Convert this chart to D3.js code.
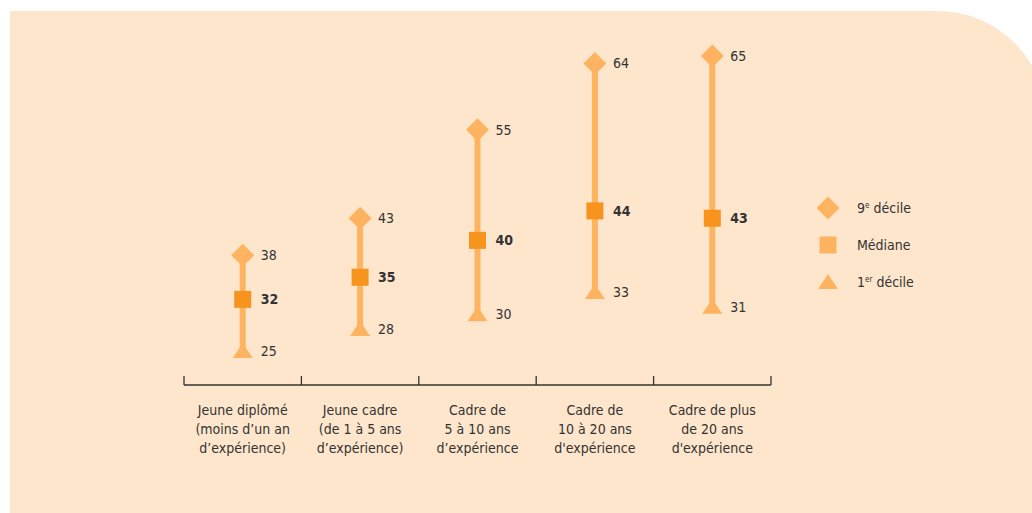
<!DOCTYPE html>
<html><head><meta charset="utf-8">
<script src="https://cdn.jsdelivr.net/npm/d3@7"></script>
<style>
html,body{margin:0;padding:0;background:#fff;}
svg{display:block;}
text{font-family:"Liberation Sans Narrow","DejaVu Sans Condensed","Liberation Sans",sans-serif;fill:#333;}
</style></head>
<body>
<script>
const categories = [
  ["Jeune diplômé","(moins d’un an","d’expérience)"],
  ["Jeune cadre","(de 1 à 5 ans","d’expérience)"],
  ["Cadre de","5 à 10 ans","d’expérience"],
  ["Cadre de","10 à 20 ans","d'expérience"],
  ["Cadre de plus","de 20 ans","d'expérience"]
];
const decile9 = [38, 43, 55, 64, 65];
const median  = [32, 35, 40, 44, 43];
const decile1 = [25, 28, 30, 33, 31];
const legendItems = [["9","e"," décile"],["Médiane","",""],["1","er"," décile"]];

const W = 1032, H = 513;
const svg = d3.select("body").append("svg").attr("width", W).attr("height", H);

// background panel with rounded top-right corner
const r = 110, x0 = 10, y0 = 11, xR = 1047, yB = 513;
svg.append("path")
  .attr("d", `M${x0},${y0} H${xR - r} A${r},${r} 0 0 1 ${xR},${y0 + r} V${yB} H${x0} Z`)
  .attr("fill", "#FEE6CC");

const idx = d3.range(categories.length);
const x = d3.scaleBand().domain(idx).range([184, 771]);
const y = d3.scaleLinear().domain([25, 65]).range([351, 56]);

const light = "#FDB35F", dark = "#F7941D";
const fs = 14;

// axis
const axisY = 385;
const ax = svg.append("g").attr("transform", `translate(0,${axisY})`)
  .call(d3.axisTop(x).tickSize(0).tickFormat(""));
ax.select(".domain").attr("stroke", "#333").attr("stroke-width", 1.3).attr("d", `M184,0H771`);
const bounds = idx.map(i => x(i)).concat([x(idx.length - 1) + x.bandwidth()]);
ax.selectAll(".bt").data(bounds).enter().append("line")
  .attr("x1", d => d).attr("x2", d => d).attr("y1", 0).attr("y2", -9)
  .attr("stroke", "#333").attr("stroke-width", 1.3);

// category labels
const lab = svg.append("g");
categories.forEach((lines, i) => {
  const t = lab.append("text").attr("text-anchor", "middle")
    .attr("x", x(i) + x.bandwidth() / 2).attr("y", 415).attr("font-size", fs);
  lines.forEach((l, k) => t.append("tspan").attr("x", x(i) + x.bandwidth() / 2).attr("dy", k ? 19 : 0).text(l));
});

const cx = i => x(i) + x.bandwidth() / 2;
const g = svg.append("g");
idx.forEach(i => {
  g.append("line").attr("x1", cx(i)).attr("x2", cx(i))
    .attr("y1", y(decile9[i])).attr("y2", y(decile1[i]))
    .attr("stroke", light).attr("stroke-width", 6);
});
const diamond = (s) => `M0,${-s}L${s},0L0,${s}L${-s},0Z`;
const tri = `M0,-8L10,7L-10,7Z`;
idx.forEach(i => {
  g.append("path").attr("d", diamond(11.5)).attr("fill", light)
    .attr("transform", `translate(${cx(i)},${y(decile9[i])})`);
  g.append("rect").attr("x", cx(i) - 8.5).attr("y", y(median[i]) - 8.5)
    .attr("width", 17).attr("height", 17).attr("fill", dark);
  g.append("path").attr("d", tri).attr("fill", light)
    .attr("transform", `translate(${cx(i)},${y(decile1[i])})`);
  g.append("text").attr("x", cx(i) + 18).attr("y", y(decile9[i]) + 5).attr("font-size", fs).text(decile9[i]);
  g.append("text").attr("x", cx(i) + 18).attr("y", y(median[i]) + 5).attr("font-size", fs)
    .attr("font-weight", "bold").text(median[i]);
  g.append("text").attr("x", cx(i) + 18).attr("y", y(decile1[i]) + 5).attr("font-size", fs).text(decile1[i]);
});

// legend
const lg = svg.append("g");
const ly = [208, 245, 282];
lg.append("path").attr("d", diamond(11.5)).attr("fill", light).attr("transform", `translate(828,${ly[0]})`);
lg.append("rect").attr("x", 828 - 8.5).attr("y", ly[1] - 8.5).attr("width", 17).attr("height", 17).attr("fill", light);
lg.append("path").attr("d", tri).attr("fill", light).attr("transform", `translate(828,${ly[2]})`);
legendItems.forEach((it, k) => {
  const t = lg.append("text").attr("x", 857).attr("y", ly[k] + 5).attr("font-size", fs);
  t.append("tspan").text(it[0]);
  if (it[1]) t.append("tspan").attr("font-size", 8).attr("dy", -5).text(it[1]);
  if (it[2]) t.append("tspan").attr("dy", it[1] ? 5 : 0).text(it[2]);
});
</script>
</body></html>
